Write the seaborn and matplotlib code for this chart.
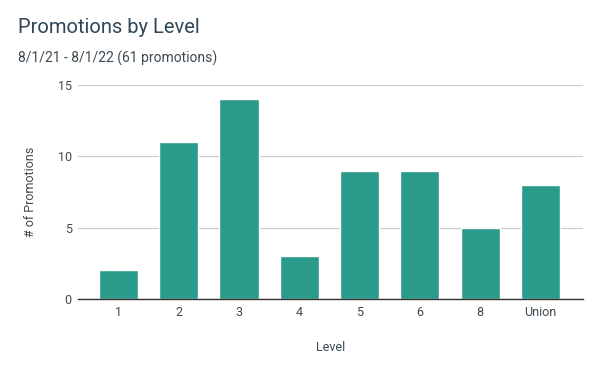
import matplotlib
matplotlib.use('Agg')
import matplotlib.pyplot as plt
import seaborn as sns
import pandas as pd

# Promotions per level
levels = ['1', '2', '3', '4', '5', '6', '8', 'Union']
promotions = [2, 11, 14, 3, 9, 9, 5, 8]
y_ticks = [0, 5, 10, 15]

df = pd.DataFrame({'level': levels, 'promotions': promotions})

sns.set_style('white')
plt.rcParams['font.family'] = ['Roboto', 'DejaVu Sans']

text_color = '#3c4a52'
bar_color = '#2a9a8a'

fig = plt.figure(figsize=(6, 3.71), dpi=100)
ax = fig.add_axes([0.13, 0.194, 0.842, 0.577])

sns.barplot(data=df, x='level', y='promotions', color=bar_color,
            width=0.65, saturation=1, ax=ax, zorder=3)

ax.set_ylim(0, 15)
ax.set_xlim(-0.67, 7.71)
ax.set_yticks(y_ticks)
ax.yaxis.grid(True, color='#cccccc', linewidth=0.9, zorder=0)
ax.set_axisbelow(True)
for s in ['top', 'right', 'left']:
    ax.spines[s].set_visible(False)
ax.spines['bottom'].set_color('#333333')
ax.spines['bottom'].set_linewidth(1.0)
ax.spines['bottom'].set_zorder(4)
ax.tick_params(axis='both', length=0, labelsize=9, colors=text_color)
ax.tick_params(axis='x', pad=5)
ax.tick_params(axis='y', pad=4.5)

ax.set_xlabel('Level', fontsize=9, color=text_color, labelpad=16)
ax.set_ylabel('# of Promotions', fontsize=9, color=text_color, labelpad=14.5)

fig.text(0.03, 0.925, 'Promotions by Level', fontsize=14.5, color='#2f4756',
         ha='left', va='center')
fig.text(0.03, 0.843, '8/1/21 - 8/1/22 (61 promotions)', fontsize=10,
         color=text_color, ha='left', va='center')

fig.savefig('out.png', dpi=100)
